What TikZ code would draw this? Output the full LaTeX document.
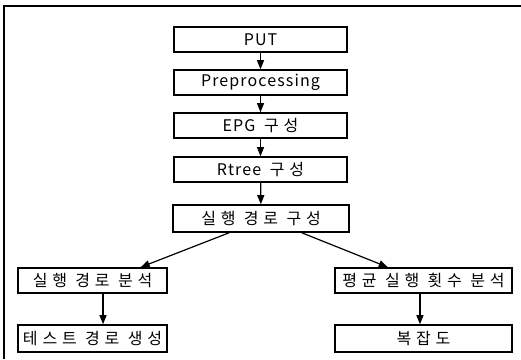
\documentclass[tikz,border=0pt]{standalone}
\usepackage{fontspec}
\setmainfont[LetterSpace=7]{Noto Sans CJK KR}
\newfontfamily\kr[LetterSpace=30]{Noto Sans CJK KR}
\usetikzlibrary{arrows.meta,calc}
\begin{document}
\begin{tikzpicture}[x=1pt,y=1pt,
  box/.style={draw,line width=1.6pt,rectangle,inner sep=0pt,font=\fontsize{16}{18}\selectfont},
  arr/.style={line width=1.2pt,-{Triangle[length=9pt,width=7pt]}}]
\useasboundingbox (0,0) rectangle (521,-359);
\draw[line width=1.6pt] (4,-359) -- (4,-6) -- (521,-6);
\node[box,minimum width=173pt,minimum height=25pt] (put) at (260.5,-39.5) {PUT};
\node[box,minimum width=173pt,minimum height=25pt] (pre) at (260.5,-82.5) {Preprocessing};
\node[box,minimum width=173pt,minimum height=25pt] (epg) at (260.5,-125.5) {EPG\hspace{4pt} {\kr 구성}};
\node[box,minimum width=173pt,minimum height=25pt] (rtree) at (260.5,-169.5) {Rtree\hspace{4pt} {\kr 구성}};
\node[box,minimum width=176pt,minimum height=27pt] (mid) at (261,-218.5) {\kr 실행 경로 구성};
\node[box,minimum width=149pt,minimum height=25pt] (l1) at (92.5,-280.5) {\kr 실행 경로 분석};
\node[box,minimum width=177pt,minimum height=25pt] (r1) at (423.5,-280.5) {\kr 평균 실행 횟수 분석};
\node[box,minimum width=149pt,minimum height=27pt] (l2) at (92.5,-338.5) {\kr 테스트 경로 생성};
\node[box,minimum width=177pt,minimum height=27pt] (r2) at (423.5,-338.5) {\kr 복잡도};
\draw[arr] (put) -- (pre);
\draw[arr] (pre) -- (epg);
\draw[arr] (epg) -- (rtree);
\draw[arr] (rtree) -- (mid);
\draw[arr] ($(mid.south west)!0.32!(mid.south east)$) -- ($(l1.north west)!0.82!(l1.north east)$);
\draw[arr] ($(mid.south west)!0.73!(mid.south east)$) -- ($(r1.north west)!0.30!(r1.north east)$);
\draw[arr] ($(l1.south west)!0.57!(l1.south east)$) -- ($(l2.north west)!0.57!(l2.north east)$);
\draw[arr] ($(r1.south west)!0.48!(r1.south east)$) -- ($(r2.north west)!0.48!(r2.north east)$);
\end{tikzpicture}
\end{document}
